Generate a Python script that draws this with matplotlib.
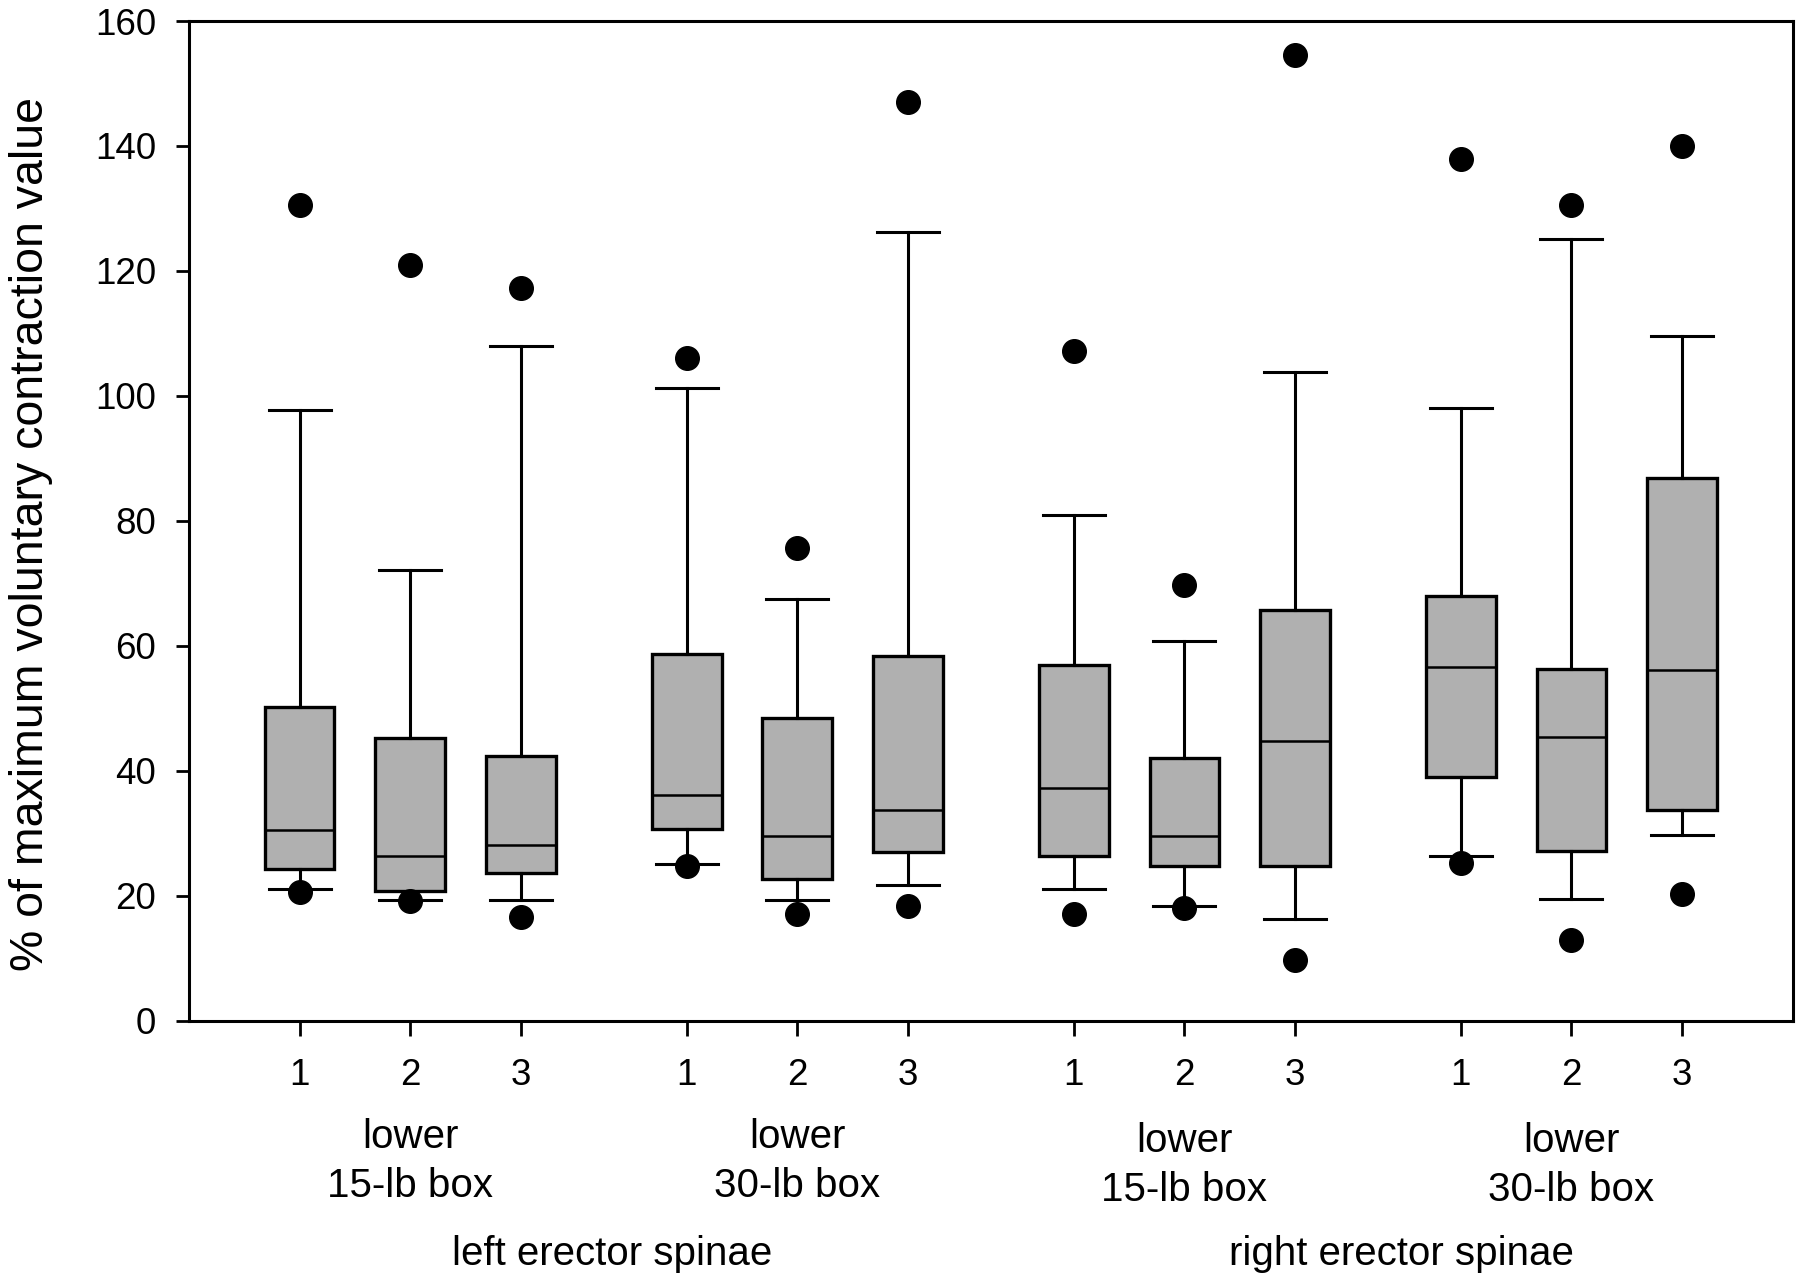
import matplotlib.pyplot as plt
import numpy as np

plt.rcParams['font.family'] = ['Liberation Sans', 'DejaVu Sans']

# Box statistics (12 boxes, 4 groups of 3 trials)
trial_labels = ['1', '2', '3'] * 4
medians = [30.5, 26.3, 28.1, 36.2, 29.6, 33.8, 37.3, 29.6, 44.7, 56.6, 45.4, 56.1]
q1 = [24.3, 20.8, 23.7, 30.7, 22.6, 27.0, 26.3, 24.8, 24.8, 39.0, 27.2, 33.7]
q3 = [50.2, 45.2, 42.3, 58.7, 48.4, 58.3, 57.0, 42.1, 65.7, 67.9, 56.3, 86.8]
whisker_low = [21.0, 19.3, 19.3, 25.0, 19.3, 21.7, 21.1, 18.4, 16.2, 26.3, 19.5, 29.8]
whisker_high = [97.7, 72.1, 108.0, 101.3, 67.5, 126.3, 80.9, 60.7, 103.9, 98.0, 125.1, 109.6]
dot_low = [20.6, 19.1, 16.6, 24.8, 17.1, 18.4, 17.1, 18.0, 9.7, 25.2, 12.9, 20.2]
dot_high = [130.6, 121.0, 117.3, 106.1, 75.6, 147.1, 107.2, 69.7, 154.5, 137.9, 130.6, 140.0]

group_labels = ['lower\n15-lb box', 'lower\n30-lb box', 'lower\n15-lb box', 'lower\n30-lb box']
side_labels = ['left erector spinae', 'right erector spinae']

# x positions: 3 boxes per group, gap between groups
positions = [g * 3.5 + i + 1 for g in range(4) for i in range(3)]

stats = []
for k in range(12):
    stats.append({
        'med': medians[k], 'q1': q1[k], 'q3': q3[k],
        'whislo': whisker_low[k], 'whishi': whisker_high[k],
        'fliers': [dot_low[k], dot_high[k]],
    })

fig = plt.figure(figsize=(18, 12.81), dpi=100)
ax = fig.add_axes([0.105, 0.2032, 0.8909, 0.7804])

ax.bxp(stats, positions=positions, widths=0.63, capwidths=0.56,
       patch_artist=True, showfliers=True,
       boxprops=dict(facecolor='#b0b0b0', edgecolor='black', linewidth=2.4),
       medianprops=dict(color='black', linewidth=1.8),
       whiskerprops=dict(color='black', linewidth=2.2),
       capprops=dict(color='black', linewidth=2.2),
       flierprops=dict(marker='o', markerfacecolor='black', markeredgecolor='black',
                       markersize=17, linestyle='none'))

ax.set_xlim(0, 14.5)
ax.set_ylim(0, 160)
ax.set_yticks(np.arange(0, 161, 20))
ax.set_xticks(positions)
ax.set_xticklabels(trial_labels)
ax.tick_params(axis='both', labelsize=26.5, width=2, color='black')
ax.tick_params(axis='x', length=11, pad=16)
ax.tick_params(axis='y', length=9.5, pad=14)
for s in ax.spines.values():
    s.set_linewidth(2.2)

ax.set_ylabel('% of maximum voluntary contraction value', fontsize=33.5)
ax.yaxis.set_label_coords(-0.085, 0.487)

trans = ax.get_xaxis_transform()
group_y = [-0.141, -0.141, -0.145, -0.145]
for g, lab in enumerate(group_labels):
    ax.text(positions[g * 3 + 1], group_y[g], lab, transform=trans,
            ha='center', va='center', fontsize=29, linespacing=1.35)
side_x = [3.83, 10.96]
for s, lab in enumerate(side_labels):
    ax.text(side_x[s], -0.233, lab, transform=trans, ha='center', va='center', fontsize=29)

fig.savefig('out.png', dpi=100)
